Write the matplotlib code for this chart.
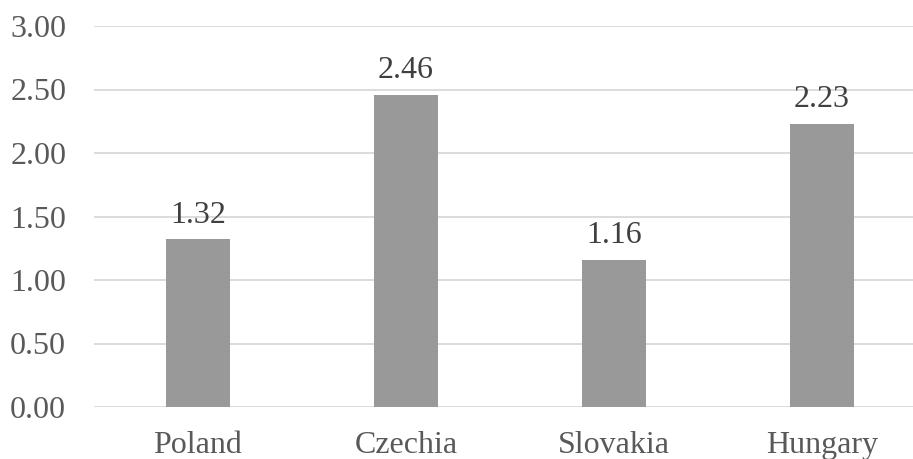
import matplotlib
matplotlib.use("Agg")
import matplotlib.pyplot as plt

countries = ["Poland", "Czechia", "Slovakia", "Hungary"]
values = [1.32, 2.46, 1.16, 2.23]
yticks = [0.0, 0.5, 1.0, 1.5, 2.0, 2.5, 3.0]

plt.rcParams['font.family'] = ['Liberation Serif', 'DejaVu Serif']
W, H = 913, 459
fig = plt.figure(figsize=(W/100, H/100), dpi=100)
left, right = 94, 926
top, bottom = 26, 407
ax = fig.add_axes([left/W, 1 - bottom/H, (right-left)/W, (bottom-top)/H])

x = list(range(len(countries)))
ax.bar(x, values, width=0.31, color="#999999", zorder=3)
ax.set_xlim(-0.5, len(countries) - 0.5)
ax.set_ylim(0, 3.0)
ax.set_yticks(yticks)
ax.set_yticklabels([f"{v:.2f}" for v in yticks])
ax.set_xticks(x)
ax.set_xticklabels(countries)
ax.grid(axis='y', color="#d9d9d9", linewidth=1.3, zorder=0)
ax.tick_params(axis='both', length=0, labelsize=23, colors="#595959")
ax.tick_params(axis='y', pad=20)
ax.tick_params(axis='x', pad=17.5)
for s in ax.spines.values():
    s.set_visible(False)
for xi, v in zip(x, values):
    ax.annotate(f"{v:.2f}", (xi, v), xytext=(0, 7), textcoords='offset points',
                ha='center', va='bottom', fontsize=23, color="#404040")
fig.savefig("out.png", dpi=100)
